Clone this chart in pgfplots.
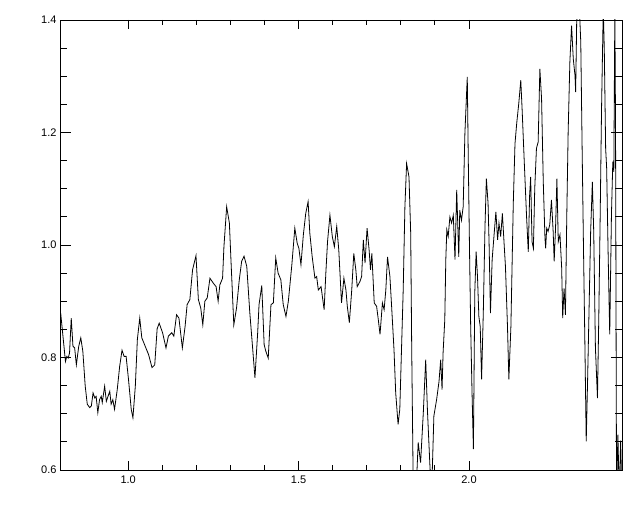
\documentclass[border=0pt]{standalone}
\usepackage{fontspec}
\setmainfont{Liberation Sans}
\usepackage{pgfplots}
\pgfplotsset{compat=1.18}
\begin{document}
\begin{tikzpicture}
\useasboundingbox (-60pt,-42pt) rectangle (580pt,470pt);
\begin{axis}[
  at={(0,0)}, anchor=south west,
  scale only axis, width=562pt, height=450pt,
  xmin=0.8, xmax=2.449, ymin=0.6, ymax=1.4,
  xtick={1.0,1.5,2.0}, ytick={0.6,0.8,1.0,1.2,1.4},
  minor x tick num=4, minor y tick num=3,
  tick align=inside,
  xtick style={/pgfplots/major tick length=9pt,/pgfplots/minor tick length=5pt,black,line width=0.8pt},
  ytick style={/pgfplots/major tick length=11pt,/pgfplots/minor tick length=7pt,black,line width=0.8pt},
  axis line style={line width=0.8pt},
  /pgf/number format/assume math mode=true,
  xticklabel style={/pgf/number format/.cd,fixed,fixed zerofill,precision=1},
  yticklabel style={/pgf/number format/.cd,fixed,fixed zerofill,precision=1},
  tick label style={font=\fontsize{11}{13}\selectfont, text=black},
  xticklabel shift=2pt,
]
\addplot[black, line width=0.8pt] table {
x y
0.802 0.879
0.816 0.793
0.820 0.802
0.824 0.799
0.828 0.808
0.833 0.870
0.838 0.820
0.843 0.817
0.848 0.787
0.855 0.820
0.861 0.835
0.867 0.811
0.874 0.749
0.880 0.717
0.887 0.711
0.892 0.714
0.897 0.737
0.902 0.728
0.906 0.731
0.911 0.702
0.916 0.725
0.921 0.731
0.924 0.720
0.931 0.749
0.936 0.722
0.941 0.731
0.946 0.740
0.950 0.717
0.955 0.725
0.960 0.708
0.968 0.743
0.975 0.784
0.982 0.813
0.988 0.802
0.994 0.802
1.001 0.761
1.009 0.708
1.014 0.693
1.021 0.749
1.027 0.832
1.034 0.870
1.040 0.835
1.050 0.820
1.060 0.805
1.070 0.782
1.078 0.787
1.085 0.851
1.091 0.861
1.101 0.844
1.111 0.817
1.118 0.838
1.128 0.844
1.134 0.838
1.142 0.876
1.149 0.870
1.159 0.817
1.167 0.855
1.173 0.894
1.181 0.903
1.189 0.956
1.199 0.981
1.206 0.903
1.213 0.888
1.219 0.858
1.225 0.900
1.232 0.906
1.240 0.941
1.250 0.932
1.258 0.926
1.264 0.900
1.269 0.929
1.277 0.941
1.281 0.997
1.289 1.068
1.297 1.039
1.302 0.968
1.310 0.858
1.318 0.888
1.326 0.938
1.333 0.971
1.340 0.980
1.348 0.962
1.357 0.879
1.364 0.826
1.372 0.764
1.380 0.844
1.384 0.894
1.392 0.928
1.399 0.823
1.404 0.811
1.411 0.799
1.419 0.894
1.426 0.897
1.433 0.977
1.440 0.950
1.448 0.938
1.455 0.894
1.463 0.873
1.470 0.900
1.480 0.963
1.489 1.030
1.496 1.003
1.501 0.994
1.507 0.965
1.514 1.018
1.521 1.056
1.528 1.077
1.533 1.021
1.540 0.979
1.548 0.941
1.553 0.944
1.558 0.920
1.566 0.926
1.575 0.885
1.580 0.950
1.585 1.006
1.592 1.053
1.599 1.015
1.605 0.997
1.612 1.033
1.618 0.991
1.626 0.897
1.633 0.941
1.639 0.920
1.643 0.891
1.649 0.862
1.656 0.920
1.662 0.985
1.668 0.956
1.672 0.926
1.680 0.935
1.685 0.944
1.690 1.009
1.695 0.968
1.701 1.030
1.707 0.991
1.711 0.956
1.715 0.985
1.722 0.897
1.729 0.891
1.734 0.867
1.739 0.841
1.746 0.897
1.751 0.885
1.756 0.920
1.761 0.979
1.768 0.944
1.773 0.891
1.780 0.814
1.785 0.737
1.792 0.681
1.797 0.708
1.802 0.814
1.807 0.920
1.812 1.068
1.817 1.145
1.824 1.121
1.829 1.021
1.832 0.814
1.836 0.595
1.844 0.550
1.851 0.649
1.858 0.613
1.866 0.702
1.873 0.796
1.878 0.708
1.885 0.613
1.890 0.550
1.897 0.696
1.905 0.725
1.912 0.757
1.917 0.796
1.921 0.743
1.924 0.808
1.929 0.867
1.932 0.974
1.935 1.027
1.939 1.015
1.944 1.050
1.949 1.039
1.954 1.053
1.959 0.974
1.964 1.098
1.970 0.979
1.973 1.062
1.978 1.044
1.983 1.068
1.988 1.198
1.995 1.299
1.998 1.151
2.002 0.974
2.005 0.855
2.009 0.737
2.013 0.637
2.017 0.915
2.021 0.988
2.025 0.944
2.029 0.873
2.033 0.855
2.037 0.761
2.042 0.879
2.047 1.033
2.051 1.118
2.056 1.074
2.059 1.003
2.063 0.879
2.068 0.974
2.074 1.021
2.079 1.059
2.084 1.009
2.088 1.039
2.093 1.015
2.098 1.056
2.103 1.003
2.107 0.962
2.113 0.855
2.117 0.761
2.123 0.855
2.130 1.074
2.135 1.180
2.140 1.216
2.146 1.251
2.152 1.293
2.156 1.240
2.162 1.151
2.169 1.050
2.174 0.988
2.178 1.089
2.181 1.121
2.185 1.006
2.189 0.994
2.193 1.101
2.198 1.172
2.203 1.183
2.208 1.313
2.213 1.260
2.218 1.112
2.223 1.012
2.225 0.994
2.228 1.030
2.232 1.024
2.237 1.036
2.242 1.080
2.247 1.024
2.250 0.971
2.254 1.030
2.258 1.118
2.262 1.006
2.267 1.018
2.272 0.959
2.275 0.870
2.279 0.923
2.283 0.876
2.287 1.053
2.291 1.201
2.296 1.325
2.301 1.390
2.306 1.331
2.311 1.302
2.313 1.272
2.316 1.396
2.319 1.420
2.324 1.420
2.328 1.361
2.332 1.172
2.336 0.994
2.340 0.829
2.344 0.651
2.348 0.758
2.352 0.876
2.357 1.024
2.362 1.112
2.366 1.024
2.371 0.817
2.377 0.728
2.381 0.876
2.385 1.053
2.389 1.243
2.394 1.420
2.397 1.349
2.401 1.172
2.404 1.136
2.408 0.994
2.413 0.841
2.418 1.053
2.422 1.148
2.425 1.130
2.428 1.420
2.430 1.213
2.433 0.550
2.437 0.663
2.441 0.550
2.445 0.652
2.449 0.550
};
\end{axis}
\end{tikzpicture}
\end{document}
